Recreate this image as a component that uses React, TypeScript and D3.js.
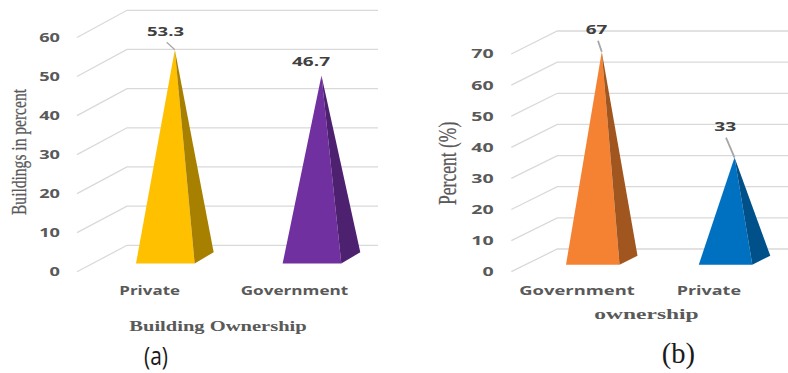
import React from "react";
import * as d3 from "d3";

// Panel (a): building ownership
const categoriesA = ["Private", "Government"];
const valuesA = [53.3, 46.7];
const ticksA = [0, 10, 20, 30, 40, 50, 60];
const faceColorsA = ["#ffc000", "#7030a0"];
const sideColorsA = ["#a88000", "#4d2070"];

// Panel (b): ownership
const categoriesB = ["Government", "Private"];
const valuesB = [67, 33];
const ticksB = [0, 10, 20, 30, 40, 50, 60, 70];
const faceColorsB = ["#f58233", "#0070c0"];
const sideColorsB = ["#a0561e", "#00508a"];

const SANS = "'Open Sans', 'DejaVu Sans', sans-serif";
const SERIF = "'Liberation Serif', serif";

type Span = [number, number];

interface FitProps {
  x0: number;
  x1: number;
  y: number;
  size: number;
  fill: string;
  font?: string;
  weight?: number;
  children: string;
}

// Text stretched to occupy an exact horizontal span
function Fit({ x0, x1, y, size, fill, font = SANS, weight = 600, children }: FitProps) {
  return (
    <text
      x={x0}
      y={y}
      textLength={x1 - x0}
      lengthAdjust="spacingAndGlyphs"
      fontFamily={font}
      fontSize={size}
      fontWeight={weight}
      fill={fill}
    >
      {children}
    </text>
  );
}

// Condensed serif title running up the left side of a panel
function VerticalTitle({ x, y0, y1, size, children }: { x: number; y0: number; y1: number; size: number; children: string }) {
  return (
    <text
      transform={`translate(${x},${y0}) rotate(-90)`}
      textLength={y0 - y1}
      lengthAdjust="spacingAndGlyphs"
      fontFamily={SERIF}
      fontSize={size}
      fontWeight={400}
      fill="#595959"
      stroke="#595959"
      strokeWidth={0.25}
    >
      {children}
    </text>
  );
}

interface PanelProps {
  categories: string[];
  values: number[];
  ticks: number[];
  faceColors: string[];
  sideColors: string[];
  domainMax: number;
  frontY: Span;
  backY: Span;
  frontX: number;
  backX: number;
  wallEnd: number;
  baseSpan: Span;
  innerPadding: number;
  baseY: number;
  depth: [number, number];
  tickRight: number;
  digitWidth: number;
  valueLabels: { span: Span; y: number }[];
  leaders: ([number, number] | null)[];
  leaderWidth: number;
  categorySpans: Span[];
  categoryY: number;
}

function Panel(p: PanelProps) {
  const front = d3.scaleLinear().domain([0, p.domainMax]).range(p.frontY);
  const back = d3.scaleLinear().domain([0, p.domainMax]).range(p.backY);
  const band = d3.scaleBand<string>().domain(p.categories).range(p.baseSpan).paddingInner(p.innerPadding).paddingOuter(0);
  const [dx, dy] = p.depth;
  // The apex sits above the centre of the square base
  const apexY = d3.scaleLinear().domain([0, p.domainMax]).range([
    p.baseY + dy / 2,
    p.baseY + dy / 2 - (p.frontY[0] - p.frontY[1]),
  ]);
  const poly = d3.line();

  return (
    <g>
      {p.ticks.map((t) => (
        <g key={t}>
          <path
            d={poly([[p.frontX, front(t)], [p.backX, back(t)], [p.wallEnd, back(t)]]) ?? ""}
            fill="none"
            stroke="#d9d9d9"
            strokeWidth={1.3}
          />
          <Fit
            x0={p.tickRight - String(t).length * p.digitWidth}
            x1={p.tickRight}
            y={front(t) + 4.4}
            size={13}
            fill="#595959"
            weight={700}
          >
            {String(t)}
          </Fit>
        </g>
      ))}
      {p.categories.map((c, i) => {
        const left = band(c) ?? 0;
        const right = left + band.bandwidth();
        const apex: [number, number] = [(left + right + dx) / 2, apexY(p.values[i])];
        const leader = p.leaders[i];
        return (
          <g key={c}>
            <path
              d={(poly([[left, p.baseY], [right, p.baseY], apex]) ?? "") + "Z"}
              fill={p.faceColors[i]}
            />
            <path
              d={(poly([[right, p.baseY], [right + dx, p.baseY + dy], apex]) ?? "") + "Z"}
              fill={p.sideColors[i]}
            />
            {leader && (
              <line
                x1={leader[0]}
                y1={leader[1]}
                x2={apex[0]}
                y2={apex[1]}
                stroke="#a6a6a6"
                strokeWidth={p.leaderWidth}
              />
            )}
            <Fit x0={p.valueLabels[i].span[0]} x1={p.valueLabels[i].span[1]} y={p.valueLabels[i].y} size={13} fill="#404040" weight={700}>
              {String(p.values[i])}
            </Fit>
            <Fit x0={p.categorySpans[i][0]} x1={p.categorySpans[i][1]} y={p.categoryY} size={13} fill="#595959" weight={700}>
              {c}
            </Fit>
          </g>
        );
      })}
    </g>
  );
}

export default function App() {
  return (
    <svg
      width={788}
      height={373}
      viewBox="0 0 788 373"
      style={{ position: "absolute", left: 0, top: 0, background: "#ffffff" }}
    >
      <Panel
        categories={categoriesA}
        values={valuesA}
        ticks={ticksA}
        faceColors={faceColorsA}
        sideColors={sideColorsA}
        domainMax={60}
        frontY={[271.7, 37.5]}
        backY={[245.3, 10.3]}
        frontX={77}
        backX={127}
        wallEnd={378}
        baseSpan={[136, 341.3]}
        innerPadding={0.6}
        baseY={263.5}
        depth={[19, -11.3]}
        tickRight={60}
        digitWidth={10.4}
        valueLabels={[
          { span: [147, 184], y: 36 },
          { span: [292, 330], y: 65.7 },
        ]}
        leaders={[[166.7, 42.3], null]}
        leaderWidth={1.2}
        categorySpans={[
          [119.3, 180],
          [240.7, 348.3],
        ]}
        categoryY={295}
      />
      <Fit x0={129.3} x1={306.7} y={331} size={14} fill="#595959" font={SERIF} weight={700}>
        Building Ownership
      </Fit>
      <VerticalTitle x={25.5} y0={215} y1={89} size={21}>
        Buildings in percent
      </VerticalTitle>
      <Fit x0={144} x1={168} y={365} size={25} fill="#1a1a1a" font={SANS} weight={400}>
        (a)
      </Fit>

      <Panel
        categories={categoriesB}
        values={valuesB}
        ticks={ticksB}
        faceColors={faceColorsB}
        sideColors={sideColorsB}
        domainMax={70}
        frontY={[271.7, 54]}
        backY={[249, 31]}
        frontX={511.3}
        backX={557.3}
        wallEnd={788}
        baseSpan={[566, 752.3]}
        innerPadding={0.597}
        baseY={264.7}
        depth={[18, -9]}
        tickRight={493.7}
        digitWidth={11.2}
        valueLabels={[
          { span: [585.7, 607.3], y: 34 },
          { span: [714.3, 736.3], y: 131 },
        ]}
        leaders={[
          [598, 40.7],
          [726, 137.7],
        ]}
        leaderWidth={1.8}
        categorySpans={[
          [519.3, 634.7],
          [676.7, 741],
        ]}
        categoryY={295}
      />
      <Fit x0={594.3} x1={698.7} y={319.3} size={15} fill="#595959" font={SERIF} weight={700}>
        ownership
      </Fit>
      <VerticalTitle x={456} y0={205} y1={121.7} size={25}>
        Percent (%)
      </VerticalTitle>
      <Fit x0={661.7} x1={695} y={363} size={29} fill="#1a1a1a" font={SERIF} weight={400}>
        (b)
      </Fit>
    </svg>
  );
}
